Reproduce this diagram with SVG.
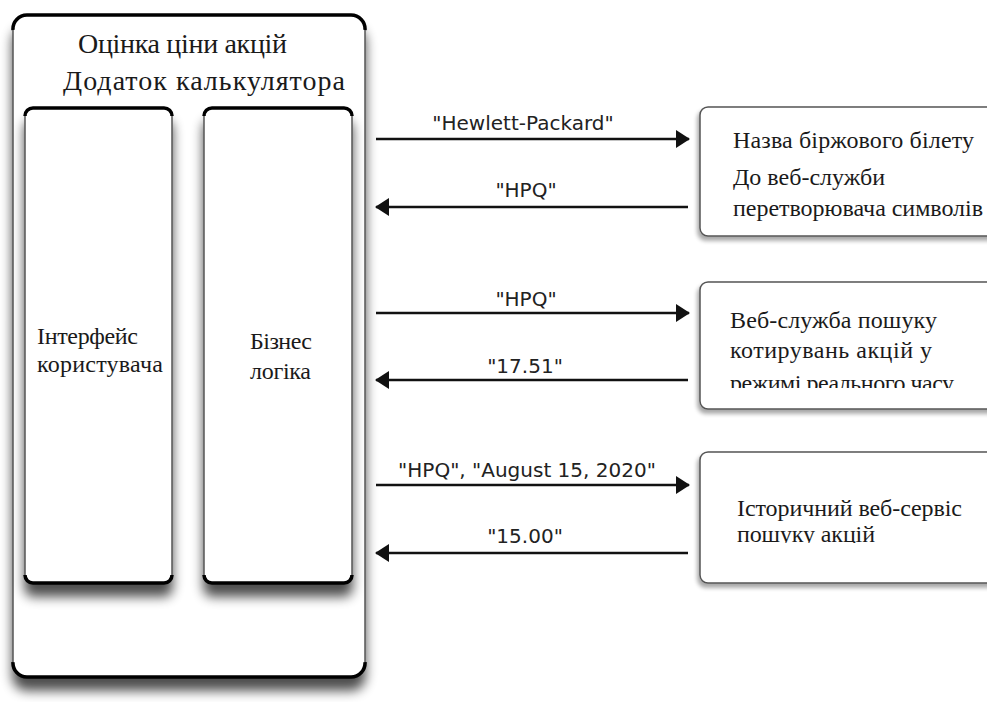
<svg xmlns="http://www.w3.org/2000/svg" width="987" height="702" viewBox="0 0 987 702">
<style>
.box{fill:#fff;stroke:#555;stroke-width:1.5}
.edge{fill:none;stroke:#000;stroke-width:3.5}
.ser{font-family:"Liberation Serif","Times New Roman",serif;fill:#1a1a1a}
.lbl{font-family:"DejaVu Sans",Verdana,sans-serif;font-size:20px;fill:#222;text-anchor:middle}
.arr{stroke:#111;stroke-width:2.4;fill:none}
</style>
<defs>
<filter id="sh" x="-10%" y="-10%" width="120%" height="125%">
<feGaussianBlur in="SourceAlpha" stdDeviation="6"/>
<feOffset dx="0" dy="13"/>
<feComponentTransfer><feFuncA type="linear" slope="0.7"/></feComponentTransfer>
<feMerge><feMergeNode/><feMergeNode in="SourceGraphic"/></feMerge>
</filter>
<filter id="sh2" x="-10%" y="-10%" width="120%" height="125%">
<feGaussianBlur in="SourceAlpha" stdDeviation="2"/>
<feOffset dx="-2" dy="4"/>
<feComponentTransfer><feFuncA type="linear" slope="0.35"/></feComponentTransfer>
<feMerge><feMergeNode/><feMergeNode in="SourceGraphic"/></feMerge>
</filter>
<marker id="ah" markerWidth="14" markerHeight="18" refX="13" refY="9" orient="auto" markerUnits="userSpaceOnUse">
<path d="M0,0 L14,9 L0,18 Z" fill="#111"/>
</marker>
<clipPath id="c2"><rect x="700" y="282" width="287" height="106"/></clipPath>
<clipPath id="c3"><rect x="700" y="452" width="287" height="91"/></clipPath>
</defs>

<g id="app">
<rect x="13" y="15" width="352" height="662" rx="14" class="box" filter="url(#sh)"/>
<path d="M13,30 A14,14 0 0 1 27,15 L351,15 A14,14 0 0 1 365,30" class="edge"/>
<path d="M13,662 A14,14 0 0 0 27,677 L351,677 A14,14 0 0 0 365,662" class="edge"/>
<text class="ser" x="78" y="53" font-size="28" textLength="209">Оцінка ціни акцій</text>
<text class="ser" x="63" y="90" font-size="28" textLength="282">Додаток калькулятора</text>
</g>

<g id="ui">
<rect x="25" y="108" width="147" height="475" rx="8" class="box" filter="url(#sh)"/>
<path d="M25,116 A8,8 0 0 1 33,108 L164,108 A8,8 0 0 1 172,116" class="edge"/>
<path d="M25,575 A8,8 0 0 0 33,583 L164,583 A8,8 0 0 0 172,575" class="edge"/>
<text class="ser" font-size="24"><tspan x="37" y="344" textLength="101">Інтерфейс</tspan><tspan x="37" y="372" textLength="126">користувача</tspan></text>
</g>

<g id="logic">
<rect x="204" y="108" width="148" height="475" rx="8" class="box" filter="url(#sh)"/>
<path d="M204,116 A8,8 0 0 1 212,108 L344,108 A8,8 0 0 1 352,116" class="edge"/>
<path d="M204,575 A8,8 0 0 0 212,583 L344,583 A8,8 0 0 0 352,575" class="edge"/>
<text class="ser" font-size="24"><tspan x="250" y="349" textLength="62">Бізнес</tspan><tspan x="250" y="379" textLength="61">логіка</tspan></text>
</g>

<g id="symbol-service">
<rect x="700" y="107" width="300" height="129" rx="8" class="box" stroke="#111" stroke-width="2" filter="url(#sh2)"/>
<text class="ser" font-size="24"><tspan x="733" y="148" textLength="241">Назва біржового білету</tspan><tspan x="733" y="185" textLength="152">До веб-служби</tspan><tspan x="733" y="216" textLength="250">перетворювача символів</tspan></text>
</g>

<g id="realtime-service">
<rect x="700" y="282" width="300" height="127" rx="8" class="box" stroke="#111" stroke-width="2" filter="url(#sh2)"/>
<text class="ser" font-size="24" clip-path="url(#c2)"><tspan x="730" y="328" textLength="207">Веб-служба пошуку</tspan><tspan x="730" y="358" textLength="202">котирувань акцій у</tspan><tspan x="730" y="391" textLength="224">режимі реального часу</tspan></text>
</g>

<g id="historical-service">
<rect x="700" y="452" width="300" height="131" rx="8" class="box" stroke="#111" stroke-width="2" filter="url(#sh2)"/>
<text class="ser" font-size="24" clip-path="url(#c3)"><tspan x="737" y="516" textLength="225">Історичний веб-сервіс</tspan><tspan x="737" y="542" textLength="138">пошуку акцій</tspan></text>
</g>

<g id="connectors">
<line x1="376" y1="139" x2="689" y2="139" class="arr" marker-end="url(#ah)"/>
<text class="lbl" x="523" y="130">"Hewlett-Packard"</text>
<line x1="688" y1="207" x2="376" y2="207" class="arr" marker-end="url(#ah)"/>
<text class="lbl" x="526" y="197">"HPQ"</text>
<line x1="376" y1="313" x2="689" y2="313" class="arr" marker-end="url(#ah)"/>
<text class="lbl" x="526" y="306">"HPQ"</text>
<line x1="688" y1="380" x2="376" y2="380" class="arr" marker-end="url(#ah)"/>
<text class="lbl" x="525" y="373">"17.51"</text>
<line x1="376" y1="485" x2="689" y2="485" class="arr" marker-end="url(#ah)"/>
<text class="lbl" x="527" y="477">"HPQ", "August 15, 2020"</text>
<line x1="688" y1="553" x2="376" y2="553" class="arr" marker-end="url(#ah)"/>
<text class="lbl" x="525" y="543">"15.00"</text>
</g>
</svg>
